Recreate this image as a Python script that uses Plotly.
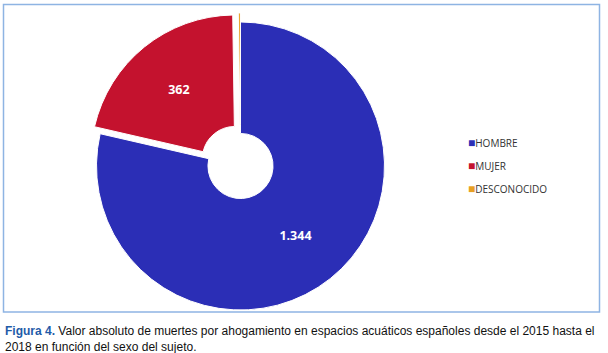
import plotly.graph_objects as go

categories = ["HOMBRE", "MUJER", "DESCONOCIDO"]
values = [1344, 362, 4]
colors = ["#2B2EB6", "#C4122E", "#E8A023"]
pulls = [0, 0.0625, 0.0625]
text_labels = ["1.344", "362", ""]

fig = go.Figure()
fig.add_trace(go.Pie(
    labels=categories,
    values=values,
    hole=0.226,
    sort=False,
    direction="clockwise",
    rotation=0,
    pull=pulls,
    text=text_labels,
    textinfo="text",
    textposition="inside",
    insidetextorientation="horizontal",
    textfont=dict(family="Open Sans", size=12.5, color="white", weight="bold"),
    marker=dict(colors=colors, line=dict(color="white", width=1)),
    domain=dict(x=[0.1439, 0.6472], y=[0.0963, 0.9632]),
    showlegend=False,
))

# custom legend built from the category / colour lists
legend_x = 466 / 608
legend_y0 = 143
legend_step = 22.5
annotations = []
for i, (cat, col) in enumerate(zip(categories, colors)):
    annotations.append(dict(
        x=legend_x, y=1 - (legend_y0 + i * legend_step) / 353,
        xref="paper", yref="paper", xanchor="left", yanchor="middle",
        showarrow=False, align="left",
        text=f"<span style='color:{col};font-size:12px'>■</span>{cat}",
        font=dict(family="Open Sans", size=10, color="#333"),
    ))

annotations.append(dict(
    x=3 / 608, y=1 - 322 / 353, xref="paper", yref="paper",
    xanchor="left", yanchor="top", showarrow=False, align="left",
    text="<span style='color:#1F5BA8'><b>Figura 4.</b></span> Valor absoluto de muertes por ahogamiento en espacios acuáticos españoles desde el 2015 hasta el<br>2018 en función del sexo del sujeto.",
    font=dict(family="Liberation Sans Narrow, Liberation Sans, Arial", size=12, color="#111"),
))

fig.update_layout(
    width=608, height=353,
    margin=dict(l=0, r=0, t=0, b=0),
    paper_bgcolor="white",
    plot_bgcolor="white",
    separators=",.",
    shapes=[dict(
        type="rect", xref="paper", yref="paper",
        x0=3.5 / 608, x1=599.5 / 608,
        y0=1 - 312 / 353, y1=1 - 4.5 / 353,
        line=dict(color="#8EB4E3", width=1.5),
        fillcolor="rgba(0,0,0,0)",
    )],
    annotations=annotations,
)

fig.write_html("out.html")
